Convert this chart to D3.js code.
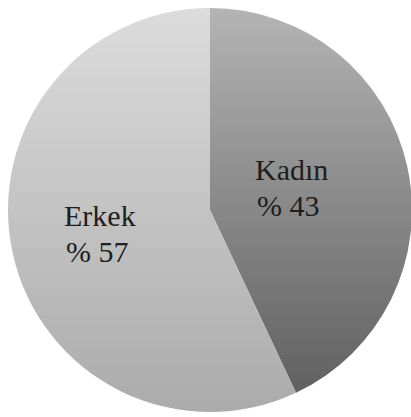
<!DOCTYPE html>
<html>
<head>
<meta charset="utf-8">
<script src="https://cdn.jsdelivr.net/npm/d3@7"></script>
<style>
  body { margin: 0; background: #fff; }
  svg { display: block; }
  text { font-family: "Liberation Serif", "DejaVu Serif", serif; fill: #1e1e1e; }
</style>
</head>
<body>
<svg width="411" height="417"></svg>
<script>
var labels = ["Kadın", "Erkek"];
var values = [43, 57];
var topColors = ["#b4b4b4", "#dcdcdc"];
var bottomColors = ["#5c5c5c", "#ababab"];

var svg = d3.select("svg"),
    cx = 210, cy = 210, r = 202;

var defs = svg.append("defs");
labels.forEach(function(l, i) {
  var g = defs.append("linearGradient")
    .attr("id", "grad" + i)
    .attr("gradientUnits", "userSpaceOnUse")
    .attr("x1", 0).attr("y1", -r)
    .attr("x2", 0).attr("y2", r);
  g.append("stop").attr("offset", "0%").attr("stop-color", topColors[i]);
  g.append("stop").attr("offset", "100%").attr("stop-color", bottomColors[i]);
});

var pie = d3.pie().sort(null).value(function(d) { return d; });
var arc = d3.arc().innerRadius(0).outerRadius(r);

var g = svg.append("g").attr("transform", "translate(" + cx + "," + cy + ")");

var arcs = pie(values);

g.selectAll("path")
  .data(arcs)
  .enter().append("path")
  .attr("d", arc)
  .attr("fill", function(d, i) { return "url(#grad" + i + ")"; });

// label positions (offset from center)
var labelPos = [[45, -30], [-146, 16]];

var lbl = g.selectAll("text.lbl")
  .data(arcs)
  .enter().append("text")
  .attr("class", "lbl")
  .attr("font-size", 30)
  .attr("transform", function(d, i) { return "translate(" + labelPos[i] + ")"; });

lbl.append("tspan").attr("x", 0).attr("y", 0).text(function(d, i) { return labels[i]; });
lbl.append("tspan").attr("x", 2).attr("y", 36).text(function(d, i) { return "% " + values[i]; });
</script>
</body>
</html>
